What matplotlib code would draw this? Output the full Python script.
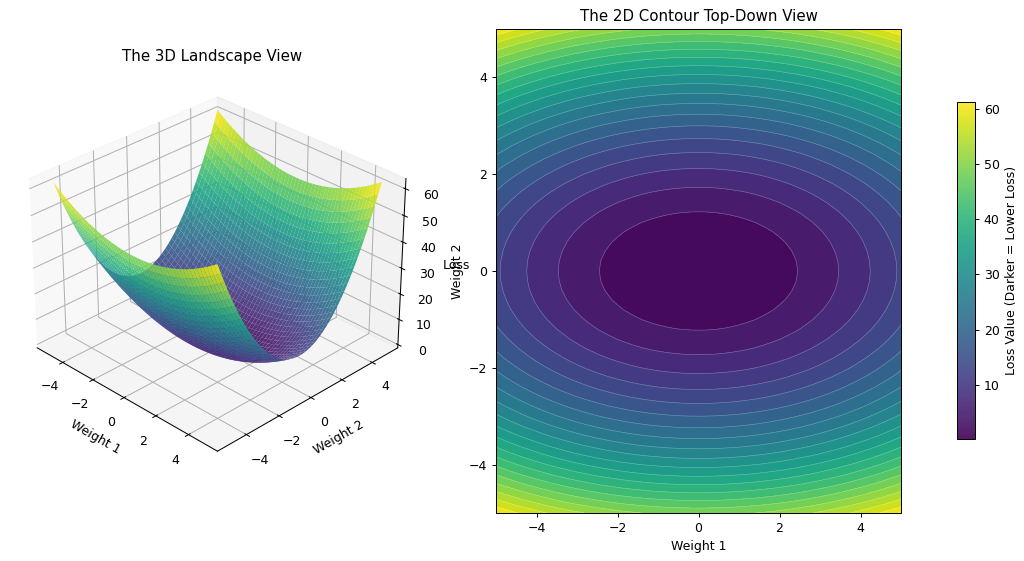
import numpy as np
import matplotlib
matplotlib.use('Agg')
import matplotlib.pyplot as plt

# Loss, per weight, at weight = 0, 0.2, ... 5 (the bowl is symmetric)
loss_w1_half = [0.00, 0.02, 0.08, 0.18, 0.32, 0.50, 0.72, 0.98, 1.28, 1.62, 2.00, 2.42,
                2.88, 3.38, 3.92, 4.50, 5.12, 5.78, 6.48, 7.22, 8.00, 8.82, 9.68, 10.58,
                11.52, 12.50]
loss_w2_half = [0.00, 0.08, 0.32, 0.72, 1.28, 2.00, 2.88, 3.92, 5.12, 6.48, 8.00, 9.68,
                11.52, 13.52, 15.68, 18.00, 20.48, 23.12, 25.92, 28.88, 32.00, 35.28,
                38.72, 42.32, 46.08, 50.00]
pesos_half = [0.0, 0.2, 0.4, 0.6, 0.8, 1.0, 1.2, 1.4, 1.6, 1.8, 2.0, 2.2, 2.4, 2.6, 2.8,
              3.0, 3.2, 3.4, 3.6, 3.8, 4.0, 4.2, 4.4, 4.6, 4.8, 5.0]

# Contour levels and colorbar range as seen in the picture
niveis = [0, 3, 6, 9, 12, 15, 18, 21, 24, 27, 30, 33, 36, 39, 42, 45, 48, 51, 54, 57, 60, 63]
loss_min = 0.15
loss_max = 61.3

pesos = np.array([-p for p in pesos_half[:0:-1]] + pesos_half)
loss_w1 = np.array(loss_w1_half[:0:-1] + loss_w1_half)
loss_w2 = np.array(loss_w2_half[:0:-1] + loss_w2_half)

X, Y = np.meshgrid(pesos, pesos)
Z = loss_w1[np.newaxis, :] + loss_w2[:, np.newaxis]

W, H = 1024, 561
DPI = 90
fig = plt.figure(figsize=(W / DPI, H / DPI), dpi=DPI)

def caixa(x0, y0, x1, y1):
    # pixel box of the picture -> figure fraction
    return [x0 / W, 1 - y1 / H, (x1 - x0) / W, (y1 - y0) / H]

# 3D view
ax1 = fig.add_axes(caixa(9.5, 68, 414.5, 473), projection='3d')
surf = ax1.plot_surface(X, Y, Z, cmap='viridis', alpha=0.9, rstride=1, cstride=1,
                        edgecolor='none', vmin=loss_min, vmax=loss_max)
ax1.view_init(elev=30, azim=-45)
ax1.set_title('The 3D Landscape View')
ax1.set_xlabel('Weight 1')
ax1.set_ylabel('Weight 2')
ax1.set_zlabel('Loss')

# Top-down view
ax2 = fig.add_axes(caixa(496, 29, 901, 513))
ax2.contourf(X, Y, Z, levels=niveis, cmap='viridis')
ax2.contour(X, Y, Z, levels=niveis, colors='white', linewidths=0.5, alpha=0.3)
ax2.set_title('The 2D Contour Top-Down View')
ax2.set_xlabel('Weight 1')
ax2.set_ylabel('Weight 2')

# Colorbar
cax = fig.add_axes(caixa(957, 102, 975, 439))
cbar = fig.colorbar(surf, cax=cax)
cbar.set_label('Loss Value (Darker = Lower Loss)')

fig.savefig('out.png', dpi=DPI)
